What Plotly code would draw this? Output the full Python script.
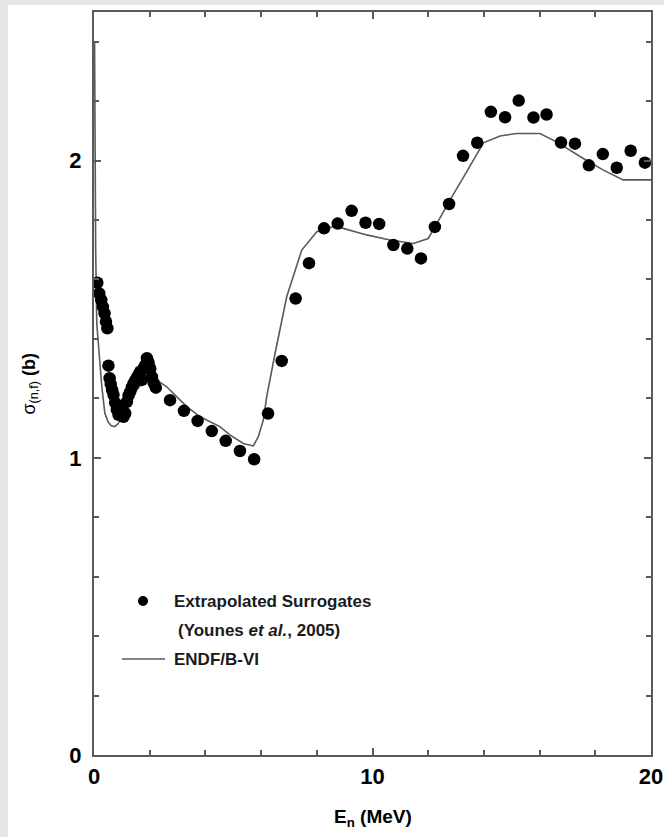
import plotly.graph_objects as go

# Extrapolated surrogate fission cross sections (Younes et al., 2005)
surr_e = [0.12, 0.19, 0.26, 0.32, 0.38, 0.43, 0.48,
          0.52, 0.56, 0.60, 0.65, 0.70, 0.76, 0.82, 0.88, 0.94, 1.00,
          1.06, 1.12, 1.18, 1.24, 1.30, 1.36, 1.42, 1.48, 1.54, 1.60,
          1.66, 1.72, 1.78, 1.84, 1.90, 1.96, 2.02, 2.08, 2.14, 2.22,
          2.73, 3.23, 3.72, 4.23, 4.73, 5.24, 5.75, 6.25, 6.74, 7.24,
          7.72, 8.26, 8.75, 9.25, 9.75, 10.24, 10.75, 11.25, 11.74, 12.24,
          12.75, 13.25, 13.76, 14.25, 14.76, 15.25, 15.78, 16.25, 16.77,
          17.27, 17.77, 18.27, 18.77, 19.27, 19.78]
surr_sigma = [1.589, 1.553, 1.531, 1.508, 1.486, 1.458, 1.436,
              1.310, 1.268, 1.248, 1.228, 1.212, 1.185, 1.162, 1.145, 1.150, 1.172,
              1.138, 1.150, 1.188, 1.210, 1.222, 1.238, 1.250, 1.260, 1.270, 1.280,
              1.290, 1.262, 1.300, 1.312, 1.335, 1.320, 1.300, 1.272, 1.252, 1.236,
              1.194, 1.158, 1.124, 1.090, 1.057, 1.023, 0.995, 1.149, 1.326, 1.536,
              1.655, 1.772, 1.788, 1.831, 1.791, 1.787, 1.716, 1.704, 1.671, 1.777,
              1.854, 2.016, 2.060, 2.164, 2.146, 2.202, 2.145, 2.155, 2.061,
              2.057, 1.984, 2.022, 1.976, 2.033, 1.993]

# ENDF/B-VI evaluated cross section
endf_e = [0.02, 0.04, 0.06, 0.10, 0.19, 0.28, 0.39, 0.51, 0.62, 0.75, 0.87,
          1.00, 1.17, 1.53, 1.83, 2.00, 2.25, 2.61, 2.97, 3.33, 3.81, 4.52,
          4.88, 5.36, 5.72, 5.90, 6.08, 6.20, 6.50, 6.92, 7.46, 8.00, 8.59,
          8.95, 9.79, 10.63, 11.47, 12.00, 12.31, 12.78, 13.38, 13.98, 14.58,
          15.18, 16.01, 16.61, 17.57, 18.29, 19.00, 20.00]
endf_sigma = [2.40, 1.95, 1.70, 1.45, 1.33, 1.24, 1.15, 1.12, 1.108, 1.105, 1.115,
              1.140, 1.172, 1.228, 1.262, 1.270, 1.262, 1.239, 1.205, 1.172, 1.138, 1.105,
              1.077, 1.048, 1.040, 1.071, 1.127, 1.205, 1.351, 1.542, 1.699, 1.761, 1.778,
              1.772, 1.750, 1.733, 1.721, 1.738, 1.788, 1.867, 1.962, 2.060, 2.083,
              2.091, 2.091, 2.063, 2.007, 1.968, 1.935, 1.935]

x_ticks = [0, 10, 20]
y_ticks = [0, 1, 2]

FONT = "Liberation Sans, Arial, Helvetica, sans-serif"
FRAME = "#5a5a5a"
SURROUND = "#e6e6e6"

fig = go.Figure()
fig.add_trace(go.Scatter(x=endf_e, y=endf_sigma, mode="lines",
                         line=dict(color=FRAME, width=1.6),
                         name="ENDF/B-VI", showlegend=False))
fig.add_trace(go.Scatter(x=surr_e, y=surr_sigma, mode="markers",
                         marker=dict(color="black", size=12.5),
                         name="Extrapolated Surrogates", showlegend=False))

axis_common = dict(showgrid=False, zeroline=False, showline=True, linecolor=FRAME,
                   linewidth=2, mirror="allticks", ticks="inside", tickcolor=FRAME,
                   tickwidth=1.5, ticklen=7, automargin=False,
                   tickfont=dict(family=FONT, size=22, color="black", weight="bold"))

fig.update_xaxes(range=[0, 20], tickvals=x_ticks, ticktext=[str(v) for v in x_ticks],
                 minor=dict(dtick=2, ticks="inside", ticklen=5, tickcolor=FRAME, tickwidth=1.5),
                 ticklabelstandoff=1, **axis_common)
fig.update_yaxes(range=[0, 2.5], tickvals=y_ticks, ticktext=[str(v) for v in y_ticks],
                 minor=dict(dtick=0.2, ticks="inside", ticklen=5, tickcolor=FRAME, tickwidth=1.5),
                 ticklabelstandoff=6, **axis_common)


def px_x(p):
    return (p - 94) / 557


def px_y(p):
    return (755 - p) / 743


# grey surround strips along the left and top edges of the page
fig.add_shape(type="rect", xref="paper", yref="paper",
              x0=px_x(-2), x1=px_x(8), y0=px_y(840), y1=px_y(-2),
              fillcolor=SURROUND, line=dict(width=0), layer="below")
fig.add_shape(type="rect", xref="paper", yref="paper",
              x0=px_x(-2), x1=px_x(666), y0=px_y(5), y1=px_y(-2),
              fillcolor=SURROUND, line=dict(width=0), layer="below")

# axis titles
fig.add_annotation(xref="paper", yref="paper", x=0.5, y=px_y(818),
                   text="<b>E<sub>n</sub> (MeV)</b>", showarrow=False,
                   font=dict(family=FONT, size=19, color="black"),
                   xanchor="center", yanchor="middle")
fig.add_annotation(xref="paper", yref="paper", x=px_x(30), y=0.5,
                   text="σ<sub>(n,f)</sub> <b>(b)</b>", showarrow=False, textangle=-90,
                   font=dict(family=FONT, size=18, color="black"),
                   xanchor="center", yanchor="middle")

# legend
fig.add_shape(type="circle", xref="paper", yref="paper", xsizemode="pixel", ysizemode="pixel",
              xanchor=px_x(143), yanchor=px_y(601), x0=-5, x1=5, y0=-5, y1=5,
              fillcolor="black", line=dict(width=0))
fig.add_shape(type="line", xref="paper", yref="paper",
              x0=px_x(122), x1=px_x(165), y0=px_y(659), y1=px_y(659),
              line=dict(color=FRAME, width=1.6))
legend_font = dict(family=FONT, size=17, color="#1a1a1a")
for txt, lx, ly in [("<b>Extrapolated Surrogates</b>", 172, 601),
                    ("<b>(Younes <i>et al.</i>, 2005)</b>", 176, 630),
                    ("<b>ENDF/B-VI</b>", 172, 659)]:
    fig.add_annotation(xref="paper", yref="paper", x=px_x(lx), y=px_y(ly), text=txt,
                       showarrow=False, font=legend_font, xanchor="left", yanchor="middle")

fig.update_layout(width=664, height=837, autosize=False,
                  margin=dict(l=94, r=13, t=12, b=82),
                  paper_bgcolor="white", plot_bgcolor="white",
                  showlegend=False)

fig.write_html("out.html", config={"responsive": False})
